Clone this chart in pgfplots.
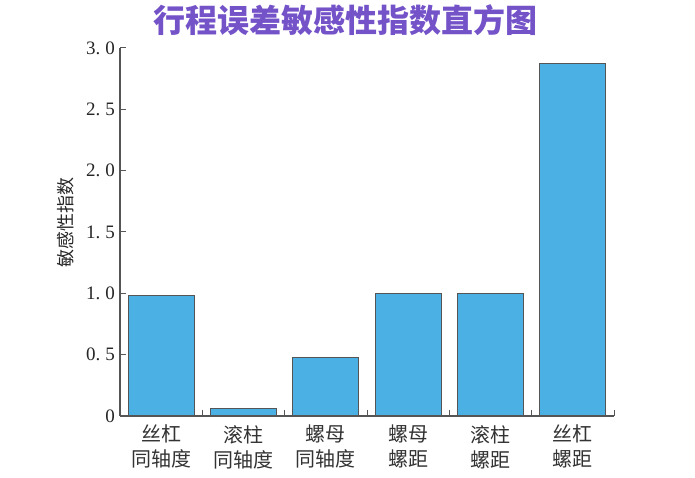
\documentclass[border=0pt]{standalone}
\usepackage{pgfplots}
\pgfplotsset{compat=1.18}
\usepackage{fontspec}
\setmainfont{Liberation Serif}
\newfontfamily\cjk{Noto Sans CJK SC}
\definecolor{barblue}{HTML}{4BB0E3}
\definecolor{edgegray}{HTML}{555555}
\definecolor{titlepurple}{HTML}{7452C8}
\newcommand\dn[2]{#1.\kern5pt#2}
\begin{document}
\begin{tikzpicture}
\useasboundingbox (0,0) rectangle (695pt,478pt);
\begin{axis}[
  at={(120pt,62pt)}, anchor=south west,
  scale only axis, width=494pt, height=368pt,
  xmin=-0.5, xmax=5.5, ymin=0, ymax=3,
  axis x line*=bottom, axis y line*=left,
  axis line style={draw=edgegray, line width=1.2pt},
  tick align=inside,
  major tick length=6pt, minor tick length=6pt,
  ytick={0,0.5,1,1.5,2,2.5,3},
  yticklabels={0,\dn{0}{5},\dn{1}{0},\dn{1}{5},\dn{2}{0},\dn{2}{5},\dn{3}{0}},
  ytick style={draw=edgegray, line width=1pt},
  yticklabel style={font=\fontsize{19}{19}\selectfont, inner sep=0pt, xshift=-5pt, text=black!85},
  xtick={0,1,2,3,4,5},
  xticklabels={{丝杠\\同轴度},{滚柱\\同轴度},{螺母\\同轴度},{螺母\\螺距},{滚柱\\螺距},{丝杠\\螺距}},
  major x tick style={draw=none},
  minor xtick={0.5,1.5,2.5,3.5,4.5,5.5},
  minor x tick style={draw=edgegray, line width=1pt},
  xticklabel style={align=center, font=\cjk\fontsize{20}{25}\selectfont, inner sep=0pt, yshift=-9pt, text=black!80},
  ylabel={敏感性指数},
  ylabel style={font=\cjk\fontsize{18}{18}\selectfont, at={(rel axis cs:-0.1093,0.525)}, anchor=center, rotate=0, text=black!85},
  clip=false,
]
\addplot[ybar, bar width=0.8, fill=barblue, draw=edgegray, line width=1pt]
  coordinates {(0,0.98) (1,0.065) (2,0.48) (3,1.0) (4,1.0) (5,2.87)};
\end{axis}
\node[font=\cjk\bfseries\fontsize{32}{32}\selectfont, text=titlepurple] at (345pt,458pt) {行程误差敏感性指数直方图};
\end{tikzpicture}
\end{document}
